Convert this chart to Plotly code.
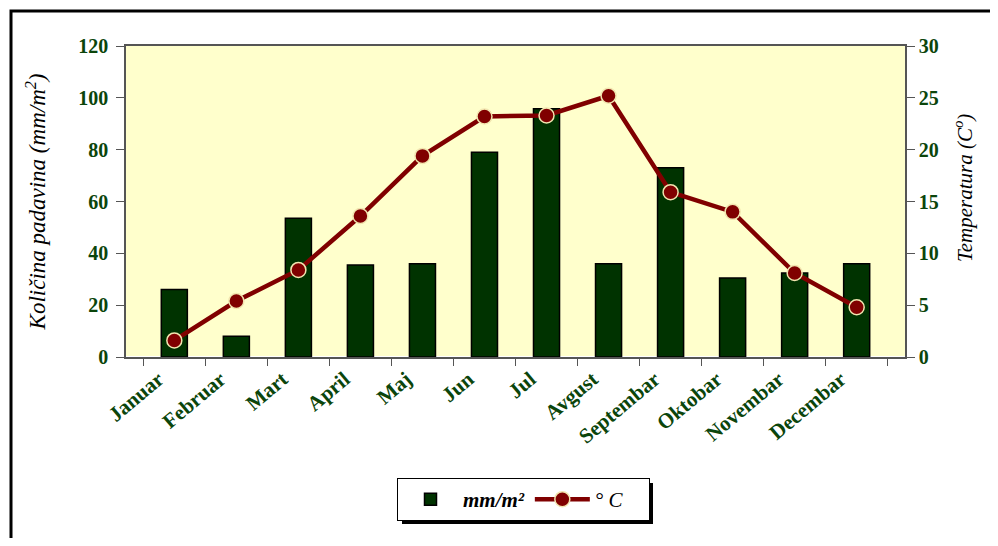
import plotly.graph_objects as go

months = ["Januar", "Februar", "Mart", "April", "Maj", "Jun", "Jul",
          "Avgust", "Septembar", "Oktobar", "Novembar", "Decembar"]
precip = [26, 8, 53.5, 35.5, 36, 79, 95.8, 36, 73, 30.5, 32.4, 36]
temp = [1.6, 5.4, 8.4, 13.6, 19.4, 23.2, 23.3, 25.2, 15.9, 14.0, 8.1, 4.8]

GREEN = "#003300"
TICKG = "#0b450b"
RED = "#800000"
AXC = "#555555"
SERIF = "Liberation Serif, Times New Roman, serif"

fig = go.Figure()
fig.add_trace(go.Bar(
    x=months, y=precip, name="<b><i>mm/m²</i></b>",
    marker=dict(color=GREEN, line=dict(color="black", width=1.5)),
    width=0.42, yaxis="y"))
fig.add_trace(go.Scatter(
    x=months, y=temp, name="<i>° C</i>\u00a0\u00a0\u00a0\u00a0", yaxis="y2",
    mode="lines+markers",
    line=dict(color=RED, width=4.5),
    marker=dict(size=15, color=RED, line=dict(color="#F2E6B0", width=1.5))))

# page body has an 8px margin, so the figure is offset by 8px
OFF = 8
W, H = 990, 530
L, T = 126 - OFF, 46 - OFF
pw, ph = 779, 311
R = W - L - pw
B = H - T - ph
def px(x):  # reference-pixel x -> paper
    return (x - OFF - L) / pw
def py(y):  # reference-pixel y -> paper
    return (T + ph - (y - OFF)) / ph

shapes = [
    # outer frame
    dict(type="rect", xref="paper", yref="paper",
         x0=px(11), x1=px(1020), y0=py(580), y1=py(11),
         line=dict(color="black", width=3), fillcolor="rgba(0,0,0,0)"),
    # legend shadow
    dict(type="rect", xref="paper", yref="paper",
         x0=px(402), x1=px(653), y0=py(524), y1=py(483),
         line=dict(width=0), fillcolor="black", layer="above"),
]

tickfont = dict(family=SERIF, size=20, color=TICKG, weight="bold")
n = len(months)

fig.update_layout(
    width=W, height=H,
    margin=dict(l=L, r=R, t=T, b=B, autoexpand=False),
    paper_bgcolor="white", plot_bgcolor="#FFFFCC",
    font=dict(family=SERIF, color="black"),
    showlegend=True,
    legend=dict(orientation="h", x=px(397), xanchor="left",
                y=py(478), yanchor="top",
                bgcolor="white", bordercolor="black", borderwidth=1,
                font=dict(family=SERIF, size=21, color="black"),
                itemwidth=55),
    xaxis=dict(
        automargin=False,
        showline=True, linecolor=AXC, linewidth=1.5, mirror=True,
        ticks="outside", tickson="boundaries", ticklen=7, tickcolor=AXC,
        tickangle=-40, ticklabelshift=-16,
        tickfont=dict(family=SERIF, size=21, color=TICKG, weight="bold"),
        showgrid=False),
    # inner halves of the crossing ticks
    xaxis2=dict(
        overlaying="x", anchor="y", range=[-0.5, n - 0.5],
        tickvals=[i + 0.5 for i in range(n - 1)],
        ticks="inside", ticklen=5, tickcolor=AXC,
        showticklabels=False, showline=False, showgrid=False, zeroline=False),
    yaxis=dict(
        automargin=False,
        range=[0, 120], dtick=20, showgrid=False,
        showline=True, linecolor=AXC, linewidth=1.5,
        ticks="outside", ticklen=8, tickcolor=AXC, ticklabelstandoff=4,
        tickfont=tickfont,
        title=dict(text="<i>Količina padavina (mm/m<sup>2</sup>)</i>",
                   font=dict(family=SERIF, size=23, color="black"), standoff=26)),
    yaxis3=dict(
        overlaying="y", side="left", anchor="x", range=[0, 120], dtick=20,
        ticks="inside", ticklen=7, tickcolor=AXC,
        showticklabels=False, showline=False, showgrid=False, zeroline=False),
    yaxis2=dict(
        automargin=False,
        range=[0, 30], dtick=5, overlaying="y", side="right", showgrid=False,
        showline=True, linecolor=AXC, linewidth=1.5,
        ticks="outside", ticklen=8, tickcolor=AXC,
        tickfont=tickfont),
    yaxis4=dict(
        overlaying="y", side="right", anchor="x", range=[0, 30], dtick=5,
        ticks="inside", ticklen=7, tickcolor=AXC,
        showticklabels=False, showline=False, showgrid=False, zeroline=False),
    annotations=[dict(
        text="<i>Temperatura (C<sup>o</sup>)</i>", textangle=-90,
        xref="paper", yref="paper", x=px(963), y=py(188),
        xanchor="center", yanchor="middle", showarrow=False,
        font=dict(family=SERIF, size=21, color="black"))],
    shapes=shapes,
)

fig.write_html("out.html")
